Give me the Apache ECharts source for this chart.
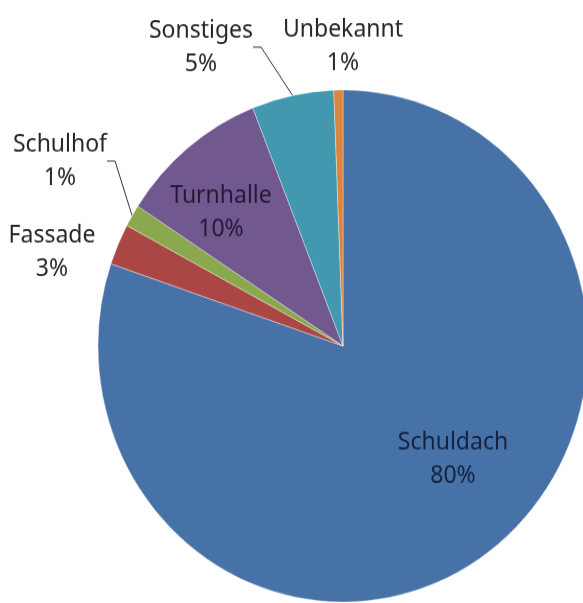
<!DOCTYPE html>
<html>
<head>
<meta charset="utf-8">
<script src="https://cdn.jsdelivr.net/npm/echarts@6/dist/echarts.min.js"></script>
<style>
  html, body { margin: 0; padding: 0; background: #fff; overflow: hidden; }
  /* the original pie is a little taller than wide */
  #main { width: 583px; height: 603px; transform: scaleY(1.045); transform-origin: 343px 346px; }
</style>
</head>
<body>
<div id="main"></div>
<script>
// Daten (Anteile in %, aus dem Bild geschaetzt)
var categories = ["Schuldach", "Fassade", "Schulhof", "Turnhalle", "Sonstiges", "Unbekannt"];
var values = [80.2, 2.6, 1.4, 9.8, 5.4, 0.6];
var colors = ["#4672A8", "#AA4643", "#8AA84E", "#71588F", "#4198AF", "#DB843D"];

// Label-Positionen (Mitte des Textblocks)
var labelPos = {
  Schuldach: [453, 454],
  Fassade: [52, 256],
  Schulhof: [60, 169],
  Turnhalle: [221, 218],
  Sonstiges: [201, 60],
  Unbekannt: [343, 59]
};
var insideLabels = ["Schuldach", "Turnhalle"];
var lineLabels = ["Sonstiges", "Schulhof"];

var chart = echarts.init(document.getElementById("main"));

var pieData = [];
for (var i = 0; i < categories.length; i++) {
  var name = categories[i];
  var inside = insideLabels.indexOf(name) >= 0;
  pieData.push({
    name: name,
    value: values[i],
    itemStyle: { color: colors[i] },
    label: {
      position: inside ? "inside" : "outside",
      color: name === "Turnhalle" ? "#241a36" : (inside ? "#14233f" : "#262626")
    },
    labelLine: { show: lineLabels.indexOf(name) >= 0 }
  });
}

chart.setOption({
  animation: false,
  series: [
    {
      type: "pie",
      center: [343, 346],
      radius: 245,
      startAngle: 90,
      clockwise: true,
      percentPrecision: 0,
      avoidLabelOverlap: false,
      itemStyle: { borderColor: "rgba(255,255,255,0.6)", borderWidth: 0.6 },
      label: {
        formatter: "{b}\n{d}%",
        fontFamily: "Noto Sans",
        fontSize: 23,
        lineHeight: 32,
        align: "center"
      },
      labelLine: {
        length: 20,
        length2: 8,
        lineStyle: { color: "#333", width: 1 }
      },
      labelLayout: function (params) {
        var p = labelPos[categories[params.dataIndex]];
        return {
          x: p[0],
          y: p[1],
          align: "center",
          verticalAlign: "middle"
        };
      },
      data: pieData
    }
  ]
});
</script>
</body>
</html>
